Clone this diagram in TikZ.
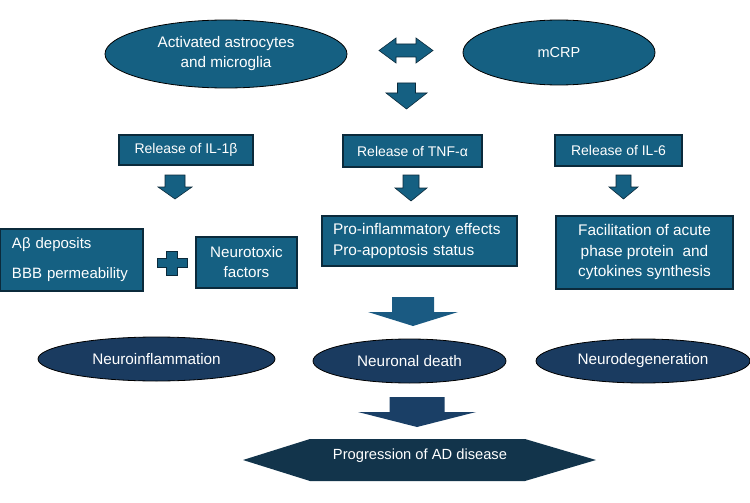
\documentclass[tikz,border=0pt]{standalone}
\usepackage{fontspec}
\setmainfont{Liberation Sans}
\usetikzlibrary{shapes.geometric}
\definecolor{accent}{HTML}{156082}
\definecolor{boxline}{HTML}{0B2A3B}
\definecolor{navy}{HTML}{1A3B60}
\definecolor{midarrow}{HTML}{1A5A82}
\definecolor{lowarrow}{HTML}{1A3F66}
\definecolor{hexfill}{HTML}{12344B}
\newcommand\blockdown[7]{%
  \draw[#7] ({#1-#3},#2) -- ({#1+#3},#2) -- ({#1+#3},#4) -- ({#1+#5},#4) -- (#1,#6) -- ({#1-#5},#4) -- ({#1-#3},#4) -- cycle;}
\begin{document}
\begin{tikzpicture}[x=1pt,y=-1pt,
  txt/.style={text=white,font=\fontsize{15.3}{18}\selectfont},
  box/.style={txt,rectangle,draw=boxline,line width=1.2pt,fill=accent,inner sep=0pt,align=center},
  topell/.style={txt,ellipse,draw=black,line width=0.8pt,fill=accent,inner sep=0pt,align=center},
  lowell/.style={txt,ellipse,draw=black,line width=0.8pt,fill=navy,inner sep=0pt,align=center},
  barrow/.style={fill=accent,draw=boxline,line width=0.6pt},
  marrow/.style={fill=midarrow,draw=none},
  larrow/.style={fill=lowarrow,draw=none}]
\useasboundingbox (0,0) rectangle (750,503);
\fill[white] (0,0) rectangle (750,503);

% top ellipses
\node[topell,minimum width=242pt,minimum height=68pt,font=\fontsize{15.3}{20}\selectfont] (act) at (226,54) {Activated astrocytes\\and microglia};
\node[topell,minimum width=192pt,minimum height=65pt,font=\fontsize{14.5}{17}\selectfont] (mcrp) at (559,52.5) {mCRP};

% double arrow
\draw[barrow] (379,50.5) -- (396,38) -- (396,44) -- (416,44) -- (416,38) -- (433,50.5) -- (416,63) -- (416,57) -- (396,57) -- (396,63) -- cycle;
\blockdown{406.5}{83}{9}{93}{20.5}{109}{barrow}

% release boxes
\node[box,minimum width=134pt,minimum height=30pt,font=\fontsize{14}{17}\selectfont] (il1) at (186,150) {Release of IL-1β};
\node[box,minimum width=139pt,minimum height=32pt,font=\fontsize{14}{17}\selectfont] (tnf) at (412.5,151) {Release of TNF-α};
\node[box,minimum width=127pt,minimum height=31pt,font=\fontsize{14}{17}\selectfont] (il6) at (618.5,150.5) {Release of IL-6};

\blockdown{175}{175}{10}{187}{17}{199}{barrow}
\blockdown{411}{175}{8}{188}{16}{201}{barrow}
\blockdown{623.5}{175}{7.5}{187}{14.5}{199}{barrow}

% effect boxes
\node[box,minimum width=143pt,minimum height=62pt,inner xsep=12pt,text width=119pt,align=left,font=\fontsize{15}{30}\selectfont] (ab) at (71.5,260) {Aβ deposits\\BBB permeability};
\draw[barrow] (157,258) -- (166,258) -- (166,251) -- (177,251) -- (177,258) -- (187,258) -- (187,267) -- (177,267) -- (177,275) -- (166,275) -- (166,267) -- (157,267) -- cycle;
\node[box,minimum width=101pt,minimum height=51pt,font=\fontsize{15.2}{20}\selectfont] (ntox) at (246.5,262.5) {Neurotoxic\\factors};
\node[box,minimum width=195pt,minimum height=50pt,inner xsep=11pt,text width=173pt,align=left,font=\fontsize{15.4}{21}\selectfont] (pro) at (419.5,241) {Pro-inflammatory effects\\Pro-apoptosis status};
\node[box,minimum width=177pt,minimum height=73pt,font=\fontsize{15.4}{20.5}\selectfont] (fac) at (644.5,252.5) {Facilitation of acute\\phase protein\ \ and\\cytokines synthesis};

\blockdown{413}{297}{21}{312}{45}{326}{marrow}

% lower ellipses
\node[lowell,minimum width=237pt,minimum height=44pt] (ninf) at (156.5,359) {Neuroinflammation};
\node[lowell,minimum width=193pt,minimum height=44pt] (ndeath) at (409.5,361) {Neuronal death};
\node[lowell,minimum width=214pt,minimum height=44pt] (ndeg) at (643,361) {Neurodegeneration};

\blockdown{417}{397}{27.5}{412}{59}{427}{larrow}

% final hexagon
\fill[hexfill] (243,460) -- (310,439) -- (525,439) -- (596,460) -- (525,481) -- (310,481) -- cycle;
\node[txt,font=\fontsize{14.7}{17}\selectfont] (prog) at (420,456) {Progression of AD disease};
\end{tikzpicture}
\end{document}
